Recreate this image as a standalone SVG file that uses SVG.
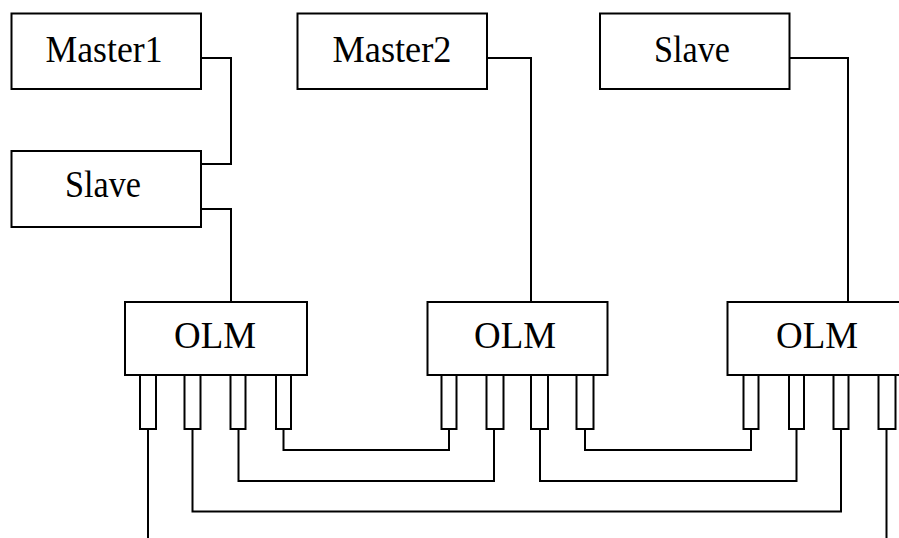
<svg xmlns="http://www.w3.org/2000/svg" width="899" height="538" viewBox="0 0 899 538">
  <style>
    .box { fill: #ffffff; stroke: #000000; stroke-width: 2; }
    .pin { fill: #ffffff; stroke: #000000; stroke-width: 2; }
    .wire { fill: none; stroke: #000000; stroke-width: 2; }
    .label { font-family: "Liberation Serif", "Times New Roman", serif; font-size: 38px; fill: #000000; text-anchor: middle; }
  </style>
  <rect width="899" height="538" fill="#ffffff"/>

  <!-- wiring between units -->
  <g id="connectors">
    <polyline class="wire" points="201,58 231,58 231,164 201,164"/>
    <polyline class="wire" points="201,209 231,209 231,302"/>
    <polyline class="wire" points="487,58 531,58 531,302"/>
    <polyline class="wire" points="789,58 848,58 848,302"/>
    <!-- fibre links below the OLMs -->
    <polyline class="wire" points="148,429 148,538"/>
    <polyline class="wire" points="192.5,429 192.5,511.5 841,511.5 841,429"/>
    <polyline class="wire" points="238.5,429 238.5,481 494,481 494,429"/>
    <polyline class="wire" points="283.5,429 283.5,450 449,450 449,429"/>
    <polyline class="wire" points="540,429 540,481 796.5,481 796.5,429"/>
    <polyline class="wire" points="585,429 585,450 751,450 751,429"/>
    <polyline class="wire" points="886.5,429 886.5,538"/>
  </g>

  <g id="master1">
    <rect class="box" x="11.5" y="13.5" width="189.5" height="75.5"/>
    <text class="label" x="104" y="62" textLength="117" lengthAdjust="spacingAndGlyphs">Master1</text>
  </g>
  <g id="slave1">
    <rect class="box" x="11.5" y="151" width="189.5" height="76"/>
    <text class="label" x="103" y="197" textLength="76" lengthAdjust="spacingAndGlyphs">Slave</text>
  </g>
  <g id="master2">
    <rect class="box" x="297.5" y="13.5" width="189.5" height="75.5"/>
    <text class="label" x="392" y="62" textLength="119" lengthAdjust="spacingAndGlyphs">Master2</text>
  </g>
  <g id="slave2">
    <rect class="box" x="600" y="13.5" width="189.5" height="75.5"/>
    <text class="label" x="692" y="62" textLength="76" lengthAdjust="spacingAndGlyphs">Slave</text>
  </g>

  <g id="olm1">
    <rect class="box" x="125" y="302" width="182" height="73"/>
    <text class="label" x="215" y="348" textLength="82" lengthAdjust="spacingAndGlyphs">OLM</text>
    <rect class="pin" x="140" y="375" width="16" height="54"/>
    <rect class="pin" x="184.5" y="375" width="16" height="54"/>
    <rect class="pin" x="230.5" y="375" width="15" height="54"/>
    <rect class="pin" x="276" y="375" width="15" height="54"/>
  </g>
  <g id="olm2">
    <rect class="box" x="427.5" y="302" width="180" height="73"/>
    <text class="label" x="515" y="348" textLength="82" lengthAdjust="spacingAndGlyphs">OLM</text>
    <rect class="pin" x="441.5" y="375" width="15" height="54"/>
    <rect class="pin" x="486.5" y="375" width="17" height="54"/>
    <rect class="pin" x="531" y="375" width="17" height="54"/>
    <rect class="pin" x="576.5" y="375" width="17" height="54"/>
  </g>
  <g id="olm3">
    <rect class="box" x="727.5" y="302" width="182" height="73"/>
    <text class="label" x="817" y="348" textLength="82" lengthAdjust="spacingAndGlyphs">OLM</text>
    <rect class="pin" x="743.5" y="375" width="15" height="54"/>
    <rect class="pin" x="789" y="375" width="15" height="54"/>
    <rect class="pin" x="833.5" y="375" width="15" height="54"/>
    <rect class="pin" x="878.5" y="375" width="17" height="54"/>
  </g>
</svg>
